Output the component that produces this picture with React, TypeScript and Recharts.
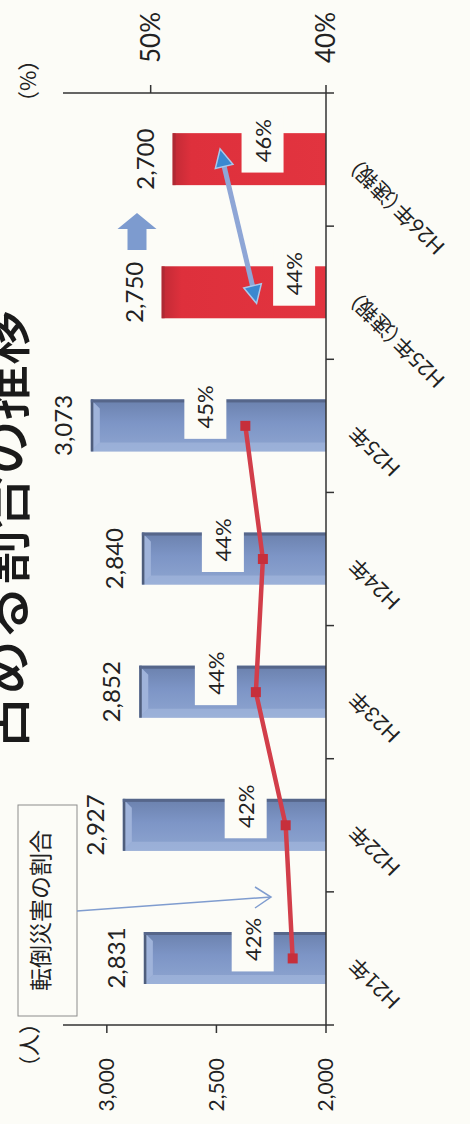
import React from 'react';
import {
  ComposedChart,
  Bar,
  Line,
  XAxis,
  YAxis,
  LabelList,
} from 'recharts';

// data
const categories = ['H21年', 'H22年', 'H23年', 'H24年', 'H25年', 'H25年（速報）', 'H26年（速報）'];
const workers = [2831, 2927, 2852, 2840, 3073, 2750, 2700];
const fallRatio = [41.9, 42.3, 44.0, 43.6, 44.6, null, null];
const flashRatio = [null, null, null, null, null, 44.1, 45.9];
const isFlash = [false, false, false, false, false, true, true];
const leftTicks = [2000, 2500, 3000];
const rightTicks = [40, 50];

const data = categories.map((name, i) => ({
  name,
  workers: workers[i],
  ratio: fallRatio[i],
  flash: flashRatio[i],
  isFlash: isFlash[i],
}));

// layout (chart is drawn landscape, then turned a quarter to the left)
const W = 1124;
const H = 470;
const MARGIN = { top: 63, right: 33, bottom: 0, left: 39 };
const AXIS_W = 60;
const PLOT_W = W - MARGIN.left - MARGIN.right - AXIS_W * 2;
const BAND = PLOT_W / categories.length;

const BG = '#fcfcf7';
const INK = '#222';
const AXIS = '#333';
const FONT = "Lato, 'Noto Sans CJK JP', sans-serif";
const JP = "'Noto Sans CJK JP', sans-serif";

const BarShape = (props: any) => {
  const { x, y, width, height, payload } = props;
  if (payload && payload.isFlash) {
    return (
      <g>
        <rect x={x} y={y} width={width} height={height} fill="url(#redBody)" />
        <rect x={x} y={y} width={width} height={3} fill="#a72a33" opacity={0.7} />
      </g>
    );
  }
  const b = 9;
  return (
    <g>
      <rect x={x} y={y} width={width} height={height} fill="url(#blueBody)" />
      <polygon
        points={`${x},${y} ${x + width},${y} ${x + width - b},${y + b} ${x + b},${y + b}`}
        fill="#9fb3da"
      />
      <polygon
        points={`${x},${y} ${x + b},${y + b} ${x + b},${y + height} ${x},${y + height}`}
        fill="#a7bbe0"
        opacity={0.55}
      />
      <rect x={x} y={y} width={width} height={2.5} fill="#4f5e7c" />
      <rect x={x + width - 3} y={y} width={3} height={height} fill="#56668a" />
    </g>
  );
};

const BarValueLabel = (props: any) => {
  const { x, y, width, value } = props;
  if (value == null) return null;
  return (
    <text x={x + width / 2} y={y - 19} textAnchor="middle" fontSize={24} fill={INK} fontFamily={FONT}>
      {Number(value).toLocaleString('en-US')}
    </text>
  );
};

// white-boxed percent label; "above" for the yearly line, "below" for the flash line
const makePercentLabel = (below: boolean) => (props: any) => {
  const { x, y, value } = props;
  if (value == null || x == null || y == null) return null;
  const cx = x + 19;
  const mid = below ? y + 40 : y - 40;
  return (
    <g>
      <rect x={cx - 32} y={mid - 21} width={64} height={42} fill={BG} />
      <text x={cx} y={mid + 8} textAnchor="middle" fontSize={22} fill={INK} fontFamily={FONT}>
        {Math.round(value)}%
      </text>
    </g>
  );
};
const PercentAbove = makePercentLabel(false);
const PercentBelow = makePercentLabel(true);

const SquareDot = (props: any) => {
  const { cx, cy, value } = props;
  if (value == null || cx == null) return <g />;
  return <rect x={cx - 5} y={cy - 5} width={10} height={10} fill="#c62f3b" />;
};

const TriangleDot = (props: any) => {
  const { cx, cy, value, index } = props;
  if (value == null || cx == null) return <g />;
  const angle = index === categories.length - 1 ? -13 : 167;
  return (
    <polygon
      points="11,0 -7,-9 -7,9"
      transform={`translate(${cx} ${cy}) rotate(${angle})`}
      fill="#3a88d0"
      stroke="#a9c8ea"
      strokeWidth={1.5}
    />
  );
};

const CategoryTick = (props: any) => {
  const { x, y, payload, index } = props;
  const half = BAND / 2;
  const tx = x + 2;
  const ty = y + 32;
  return (
    <g>
      <line x1={x - half} x2={x - half} y1={y} y2={y + 8} stroke={AXIS} strokeWidth={1.5} />
      {index === categories.length - 1 && (
        <line x1={x + half} x2={x + half} y1={y} y2={y + 8} stroke={AXIS} strokeWidth={1.5} />
      )}
      <text
        x={tx}
        y={ty}
        transform={`rotate(-45 ${tx} ${ty})`}
        textAnchor="end"
        fontSize={21}
        fill={INK}
        fontFamily={FONT}
        style={{ fontFeatureSettings: "'palt'" }}
      >
        {payload.value}
      </text>
    </g>
  );
};

const Overlay = () => (
  <svg
    width={W}
    height={H}
    style={{ position: 'absolute', left: 0, top: 0, pointerEvents: 'none', overflow: 'hidden' }}
  >
    {/* title, cut at the top edge */}
    <text x={374} y={24} fontSize={55} fill="#1a1a1a" fontFamily={JP} fontWeight={500}>
      占める割合の推移
    </text>
    {/* unit labels */}
    <text x={112} y={37} textAnchor="end" fontSize={22} fill={INK} fontFamily={JP}>
      （人）
    </text>
    <text x={1011} y={36} fontSize={22} fill={INK} fontFamily={JP}>
      （%）
    </text>
    {/* note box with pointer */}
    <rect x={108} y={18} width={211} height={59} fill={BG} stroke="#8c8c8c" strokeWidth={1} />
    <text x={213.5} y={49} textAnchor="middle" fontSize={23} fill={INK} fontFamily={JP}>
      転倒災害の割合
    </text>
    <line x1={213} y1={77} x2={227} y2={271} stroke="#7f9ccf" strokeWidth={1.5} />
    <polyline points="237,255 227,271 216,255" fill="none" stroke="#7f9ccf" strokeWidth={1.5} />
    {/* block arrow between the flash bars */}
    <polygon points="911,137 895,117.5 895,127.5 874,127.5 874,146.5 895,146.5 895,156.5" fill="#7d9bcf" />
  </svg>
);

export default function App() {
  return (
    <div
      style={{
        position: 'absolute',
        left: 0,
        top: 0,
        width: H,
        height: W,
        overflow: 'hidden',
        background: BG,
      }}
    >
      <svg width={0} height={0} style={{ position: 'absolute' }}>
        <defs>
          <linearGradient id="blueBody" x1="0" y1="0" x2="1" y2="0">
            <stop offset="0%" stopColor="#8ea5d0" />
            <stop offset="55%" stopColor="#7d95c6" />
            <stop offset="100%" stopColor="#6b81ad" />
          </linearGradient>
          <linearGradient id="redBody" x1="0" y1="0" x2="0" y2="1">
            <stop offset="0%" stopColor="#c02a35" />
            <stop offset="12%" stopColor="#de303c" />
            <stop offset="100%" stopColor="#e2343f" />
          </linearGradient>
        </defs>
      </svg>
      <div
        style={{
          position: 'absolute',
          left: 0,
          top: 0,
          width: W,
          height: H,
          transformOrigin: '0 0',
          transform: `translate(0px, ${W}px) rotate(-90deg)`,
          fontFamily: FONT,
        }}
      >
        <ComposedChart width={W} height={H} data={data} margin={MARGIN}>
          <XAxis
            dataKey="name"
            xAxisId={0}
            height={144}
            interval={0}
            tickLine={false}
            tickSize={0}
            tickMargin={0}
            axisLine={{ stroke: AXIS, strokeWidth: 1.5 }}
            tick={<CategoryTick />}
          />
          <YAxis
            yAxisId="left"
            orientation="left"
            width={AXIS_W}
            domain={[2000, 3200]}
            ticks={leftTicks}
            allowDataOverflow
            tickSize={8}
            tickMargin={25}
            tickFormatter={(v: number) => v.toLocaleString('en-US')}
            tick={{ fontSize: 21, fill: INK, fontFamily: FONT }}
            axisLine={{ stroke: AXIS, strokeWidth: 1.5 }}
            tickLine={{ stroke: AXIS, strokeWidth: 1.5 }}
          />
          <YAxis
            yAxisId="right"
            orientation="right"
            width={AXIS_W}
            domain={[40, 55]}
            ticks={rightTicks}
            allowDataOverflow
            tickSize={8}
            tickMargin={22}
            tickFormatter={(v: number) => `${v}%`}
            tick={{ fontSize: 26, fill: INK, fontFamily: FONT }}
            axisLine={{ stroke: AXIS, strokeWidth: 1.5 }}
            tickLine={{ stroke: AXIS, strokeWidth: 1.5 }}
          />
          <Bar
            yAxisId="left"
            dataKey="workers"
            barSize={52}
            shape={<BarShape />}
            isAnimationActive={false}
          >
            <LabelList dataKey="workers" content={BarValueLabel} />
          </Bar>
          <Line
            yAxisId="right"
            type="linear"
            dataKey="ratio"
            stroke="#d23e4a"
            strokeWidth={4.5}
            dot={<SquareDot />}
            activeDot={false}
            isAnimationActive={false}
          >
            <LabelList dataKey="ratio" content={PercentAbove} />
          </Line>
          <Line
            yAxisId="right"
            type="linear"
            dataKey="flash"
            stroke="#8ea6d6"
            strokeWidth={5}
            dot={<TriangleDot />}
            activeDot={false}
            isAnimationActive={false}
          >
            <LabelList dataKey="flash" content={PercentBelow} />
          </Line>
        </ComposedChart>
        <Overlay />
      </div>
    </div>
  );
}
